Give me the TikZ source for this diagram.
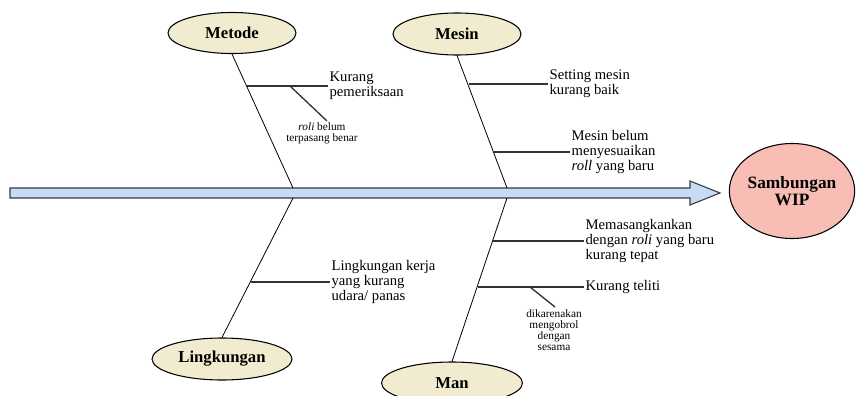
\documentclass[tikz,border=0pt]{standalone}
\usepackage{fontspec}
\setmainfont{Liberation Serif}
\usetikzlibrary{shapes.geometric}
\definecolor{cream}{HTML}{F1ECCF}
\definecolor{pinkc}{HTML}{F8BDB5}
\definecolor{arrowfill}{HTML}{C6DBF5}
\definecolor{arrowline}{HTML}{3A3A3A}
\definecolor{subline}{HTML}{333333}
\begin{document}
\begin{tikzpicture}[x=0.75pt,y=-0.75pt,
  cat/.style={ellipse,draw=black,fill=cream,line width=0.8pt,font=\bfseries\fontsize{12.5}{14}\selectfont,inner sep=0pt},
  bone/.style={draw=black,line width=0.6pt},
  sub/.style={draw=subline,line width=1pt},
  lbl/.style={align=left,font=\fontsize{11}{11.3}\selectfont,inner sep=1pt,anchor=west},
  small/.style={align=center,font=\fontsize{8.5}{8.3}\selectfont,inner sep=0pt}]
\useasboundingbox (0,0) rectangle (857,396);
% spine arrow
\draw[draw=arrowline,fill=arrowfill,line width=0.8pt]
  (10,188) -- (690,188) -- (690,181) -- (720,193) -- (690,205) -- (690,198) -- (10,198) -- cycle;
\coordinate (ts) at (293,188);
\coordinate (tm) at (507,188);
\coordinate (bs) at (293,198);
\coordinate (bm) at (507,198);
% category nodes
\node[cat,minimum width=128pt*0.75,minimum height=41pt*0.75] (metode) at (232,33) {Metode};
\node[cat,minimum width=128pt*0.75,minimum height=42pt*0.75] (mesin) at (457,34) {Mesin};
\node[cat,minimum width=140pt*0.75,minimum height=42pt*0.75] (lingk) at (222,359) {Lingkungan};
\node[cat,minimum width=141pt*0.75,minimum height=42pt*0.75] (man) at (452,383) {Man};
\node[ellipse,draw=black,fill=pinkc,line width=0.8pt,minimum width=124pt*0.75,minimum height=95pt*0.75,inner sep=0pt,align=center,font=\bfseries\fontsize{13}{13}\selectfont] (wip) at (792,191) {Sambungan\\WIP};
% main bones
\draw[bone] (metode.south) -- (ts);
\draw[bone] (mesin.south) -- (tm);
\draw[bone] (lingk.north) -- (bs);
\draw[bone] (man.north) -- (bm);
% Metode causes
\coordinate (b1) at (247,86);
\node[lbl] (t1) at (328,86) {Kurang\\pemeriksaan};
\draw[sub] (b1) -- (t1.west);
\coordinate (b1a) at (290,86);
\coordinate (e1a) at (327,121);
\node[small] (t1a) at (322,133) {\textit{roli} belum\\terpasang benar};
\draw[sub] (b1a) -- (e1a);
% Mesin causes
\coordinate (b2) at (469,84);
\node[lbl] (t2) at (548,84) {Setting mesin\\kurang baik};
\draw[sub] (b2) -- (t2.west);
\coordinate (b3) at (494,152);
\node[lbl] (t3) at (570,152) {Mesin belum\\menyesuaikan\\\textit{roll} yang baru};
\draw[sub] (b3) -- (t3.west);
% Lingkungan causes
\coordinate (b4) at (251,282);
\node[lbl] (t4) at (330,282) {Lingkungan kerja\\yang kurang\\udara/ panas};
\draw[sub] (b4) -- (t4.west);
% Man causes
\coordinate (b5) at (493,241);
\node[lbl] (t5) at (584,241) {Memasangkankan\\dengan \textit{roli} yang baru\\kurang tepat};
\draw[sub] (b5) -- (t5.west);
\coordinate (b6) at (478,287);
\node[lbl] (t6) at (584,287) {Kurang teliti};
\draw[sub] (b6) -- (t6.west);
\coordinate (b6a) at (530,287);
\coordinate (e6a) at (555,307);
\node[small] (t6a) at (554,330) {dikarenakan\\mengobrol\\dengan\\sesama};
\draw[sub] (b6a) -- (e6a);
\end{tikzpicture}
\end{document}
